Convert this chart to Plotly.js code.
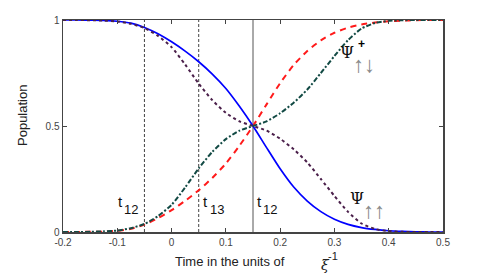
<!DOCTYPE html>
<html>
<head>
<meta charset="utf-8">
<script src="https://cdn.plot.ly/plotly-3.0.1.min.js"></script>
<style>html,body{margin:0;padding:0;background:#fff}#chart{width:491px;height:273px}</style>
</head>
<body>
<div id="chart"></div>
<script>
const timeAxis = [-0.2,-0.175,-0.15,-0.125,-0.1,-0.075,-0.05,-0.025,0,0.025,0.05,0.075,0.1,0.125,0.15,0.175,0.2,0.225,0.25,0.275,0.3,0.325,0.35,0.375,0.4,0.425,0.45,0.475,0.5];
const psiUpUpSolid = [1,1,0.999,0.998,0.994,0.985,0.965,0.935,0.897,0.853,0.803,0.745,0.677,0.593,0.5,0.398,0.298,0.212,0.146,0.096,0.06,0.036,0.021,0.012,0.006,0.003,0.001,0,0];
const psiUpDownDashed = [0,0,0.001,0.002,0.006,0.015,0.035,0.065,0.103,0.147,0.197,0.255,0.323,0.407,0.5,0.602,0.702,0.788,0.854,0.904,0.94,0.964,0.979,0.988,0.994,0.997,0.999,1,1];
const psiUpUpDotted = [1,1,0.999,0.997,0.993,0.982,0.962,0.925,0.872,0.79,0.70,0.622,0.562,0.522,0.5,0.478,0.44,0.39,0.328,0.25,0.17,0.095,0.04,0.014,0.004,0.001,0,0,0];
const psiUpDownDashDot = [0,0,0.001,0.003,0.007,0.018,0.038,0.075,0.128,0.21,0.30,0.378,0.438,0.478,0.5,0.522,0.56,0.61,0.672,0.75,0.83,0.905,0.96,0.986,0.996,0.999,1,1,1];
const markerTimes = [-0.05, 0.05, 0.15];
const markerStyles = ['dash','dash','solid'];
const xTicks = [-0.2,-0.1,0,0.1,0.2,0.3,0.4,0.5];
const xTickText = ['-0.2','-0.1','0','0.1','0.2','0.3','0.4','0.5'];
const yTicks = [0,0.5,1];
const yTickText = ['0','0.5','1'];

const traces = [];
markerTimes.forEach((t,i)=>{
  traces.push({x:[t,t], y:[0,1], mode:'lines', line:{color: i<2?'#444':'#555', width:1, dash: markerStyles[i]==='dash'?'3px,2px':'solid'}, hoverinfo:'skip'});
});
traces.push({x:timeAxis, y:psiUpDownDashed, mode:'lines', line:{color:'#ff1a1a', width:2, dash:'6px,5px', shape:'spline', smoothing:0.6}});
traces.push({x:timeAxis, y:psiUpUpSolid, mode:'lines', line:{color:'#0000ff', width:1.7, shape:'spline', smoothing:0.6}});
traces.push({x:timeAxis, y:psiUpUpDotted, mode:'lines', line:{color:'#4a1f4a', width:2, dash:'dot', shape:'spline', smoothing:0.6}});
traces.push({x:timeAxis, y:psiUpDownDashDot, mode:'lines', line:{color:'#124a44', width:2, dash:'5px,2px,2px,2px', shape:'spline', smoothing:0.6}});

const F = 'Liberation Sans, Arial, sans-serif';
function ann(x,y,text,size,color,family){
  return {x:x,y:y,xref:'x',yref:'y',text:text,showarrow:false,font:{family:family||F,size:size,color:color||'#111'},xanchor:'center',yanchor:'middle'};
}
const AR = '#8a8a8a';
const annotations = [
  ann(-0.094,0.142,'t',15),
  ann(-0.074,0.108,'12',13),
  ann(0.062,0.142,'t',15),
  ann(0.083,0.108,'13',13),
  ann(0.162,0.142,'t',15),
  ann(0.181,0.108,'12',13),
  ann(0.324,0.847,'Ψ',16,'#111','DejaVu Serif, serif'),
  ann(0.349,0.885,'<b>+</b>',12,'#000'),
  ann(0.354,0.79,'↑↓',22,AR),
  ann(0.342,0.156,'Ψ',16,'#111','DejaVu Serif, serif'),
  ann(0.373,0.10,'↑↑',22,AR),
  {x:(229.5-63)/380, y:(232-261)/212, xref:'paper', yref:'paper', text:'Time in the units of', showarrow:false, font:{family:F,size:13,color:'#222'}, xanchor:'center', yanchor:'middle'},
  {x:(325-63)/380, y:(232-265)/212, xref:'paper', yref:'paper', text:'<i>ξ</i>', showarrow:false, font:{family:'DejaVu Serif, serif',size:14,color:'#222'}, xanchor:'center', yanchor:'middle'},
  {x:(333-63)/380, y:(232-256)/212, xref:'paper', yref:'paper', text:'-1', showarrow:false, font:{family:F,size:11,color:'#222'}, xanchor:'center', yanchor:'middle'},
  {x:(22-63)/380, y:(232-116)/212, xref:'paper', yref:'paper', text:'Population', textangle:-90, showarrow:false, font:{family:F,size:13,color:'#222'}, xanchor:'center', yanchor:'middle'}
];

const layout = {
  width:491, height:273,
  margin:{l:63, r:48, t:20, b:41},
  paper_bgcolor:'#fff', plot_bgcolor:'#fff',
  showlegend:false,
  xaxis:{range:[-0.2,0.5], tickvals:xTicks, ticktext:xTickText, ticks:'inside', ticklen:4, tickcolor:'#444', showline:true, linecolor:'#444', linewidth:1.5, mirror:'ticks', showgrid:false, zeroline:false, tickfont:{family:F,size:10,color:'#444'}},
  yaxis:{range:[0,1], tickvals:yTicks, ticktext:yTickText, ticks:'inside', ticklen:4, tickcolor:'#444', showline:true, linecolor:'#444', linewidth:1.5, mirror:'ticks', showgrid:false, zeroline:false, tickfont:{family:F,size:10,color:'#444'}},
  annotations:annotations
};
Plotly.newPlot('chart', traces, layout, {staticPlot:true, displayModeBar:false});
</script>
</body>
</html>
